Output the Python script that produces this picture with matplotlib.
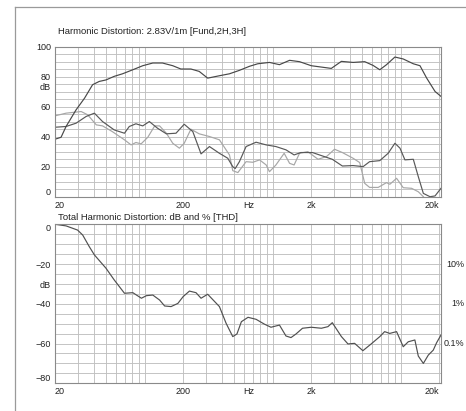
import numpy as np
import matplotlib
matplotlib.use('Agg')
import matplotlib.pyplot as plt
from matplotlib.ticker import LogLocator, MultipleLocator, FixedLocator, NullFormatter
from matplotlib.lines import Line2D
from matplotlib.transforms import blended_transform_factory

plt.rcParams['font.family'] = ['Liberation Sans', 'DejaVu Sans']

# ═══════════ data ═══════════
fund_f = [20, 22.3, 24.4, 29.2, 34, 39.3, 44.3, 50, 58, 67.3, 81, 96.8, 116, 138, 166, 192,
          230, 267, 311, 384, 460, 550, 659, 765, 944, 1130, 1355, 1620, 2000, 2395, 2868,
          3438, 4240, 5230, 6077, 6856, 7740, 8997, 10450, 12520, 14120, 15930, 18510, 20600]
fund_db = [38.4, 39.7, 46.9, 58, 65.8, 74.8, 77, 78, 80.4, 82.1, 84.8, 87.5, 89.3, 89.3, 87.5,
           85.3, 85.3, 83.7, 79.2, 80.8, 82.1, 84.4, 87.1, 88.8, 89.7, 88.2, 91.1, 90.2, 87.5,
           86.6, 85.7, 90.4, 89.7, 90.2, 87.7, 84.8, 88.2, 93.3, 92, 88.8, 87.5, 79.2, 70.3, 67]

h2_f = [20, 24.4, 29.2, 35, 40.6, 47, 58, 69.7, 76, 85.6, 96.8, 109, 126, 148, 176, 204, 238,
        276, 321, 384, 446, 488, 510, 550, 620, 742, 890, 1060, 1270, 1470, 1660, 2045, 2450,
        2920, 3500, 4240, 5080, 5710, 6856, 7970, 8997, 9860, 10770, 12520, 13700, 15000,
        16900, 18500, 20600]
h2_db = [46.4, 46.9, 49.1, 53.6, 55.8, 50.2, 44.6, 42.4, 46.9, 48.7, 47.3, 50.2, 45.8, 42,
         42.4, 48.4, 43.5, 28.6, 33.5, 29, 25.7, 20.1, 18.8, 23.4, 33.5, 36.4, 34.6, 33.5,
         31.3, 27.9, 29.5, 29.5, 27.2, 25, 20.5, 20.8, 20.1, 23.4, 24.1, 29, 35.7, 32.4, 24.6,
         25, 13.4, 2.2, 0, 0.5, 5.6]

h3_f = [20, 24.4, 32, 36, 42, 47, 56, 69.7, 78.5, 85.6, 94, 106, 120, 131, 148, 166, 187, 204,
        230, 267, 321, 384, 460, 488, 535, 620, 700, 790, 890, 944, 1060, 1230, 1355, 1470,
        1620, 1880, 2260, 2630, 3040, 3500, 4240, 4780, 5230, 5710, 6660, 7740, 8220, 9270,
        10450, 12150, 13700, 15000]
h3_db = [54, 55.8, 56.9, 54.7, 48, 47.3, 43.5, 38, 34.6, 36.2, 35.3, 39.7, 47.3, 47.3, 42.4,
         35.7, 32.4, 35.7, 45.1, 42, 40.2, 38, 27.9, 17.4, 16.1, 23.4, 23, 24.6, 21.2, 16.7,
         21.2, 29, 22.3, 21.2, 29, 30.1, 25, 26.8, 31.7, 29.5, 25.7, 22.8, 8.9, 6.2, 6.2, 9.4,
         8.3, 12.3, 6, 5.6, 3.3, 0]

thd_f = [20, 24.4, 30, 32.9, 37, 40.6, 50, 58, 69.7, 81, 94.5, 103.5, 116, 131, 143.5, 161,
         182, 200, 224, 252, 276, 311, 384, 433, 488, 526, 570, 642, 742, 860, 970, 1130,
         1270, 1390, 1520, 1710, 2000, 2400, 2700, 2920, 3440, 3870, 4360, 5060, 5870, 6860,
         7480, 8200, 9270, 10450, 11440, 12880, 13700, 15000, 16400, 17930, 19030, 20600]
thd_db = [0, -0.8, -2.9, -5.4, -11.2, -15.4, -22.1, -28, -34.7, -34.4, -37.2, -35.9, -35.6,
          -38.1, -41.1, -41.4, -39.8, -36.4, -33.6, -34.4, -37.2, -35.2, -41.4, -49.8, -56.5,
          -55.2, -49, -46.8, -47.8, -50.2, -51.8, -50.7, -56.2, -57, -55.2, -52.3, -51.8,
          -52.3, -51.5, -49.5, -56.5, -60.2, -59.9, -63.6, -60.2, -56.5, -54, -54.9, -54,
          -61.6, -59.1, -58.2, -66.3, -70, -65.8, -63.3, -59.6, -55.7]

x_ticks = [20, 200, 650, 2000, 20000]
x_labels = ['20', '200', 'Hz', '2k', '20k']
top_yticks = [0, 20, 40, 60, 80, 100]
bot_yticks = [0, -20, -40, -60, -80]
pct_db = [-20, -40, -60]
pct_labels = ['10%', '1%', '0.1%']

GRID = '#c0c0c0'
FRAME = '#8a8a8a'
TXT = '#222222'
FS = 6.5


def style_axes(ax, ylim, yticks, minor_step):
    ax.set_xscale('log')
    ax.set_xlim(20, 20600)
    ax.set_ylim(*ylim)
    ax.xaxis.remove_overlapping_locs = False
    ax.xaxis.set_major_locator(FixedLocator(x_ticks))
    ax.set_xticklabels(x_labels)
    ax.xaxis.set_minor_locator(LogLocator(base=10, subs=np.arange(1, 10), numticks=20))
    ax.xaxis.set_minor_formatter(NullFormatter())
    ax.set_yticks(yticks)
    ax.yaxis.set_minor_locator(MultipleLocator(minor_step))
    ax.grid(False, which='major', axis='x')
    ax.grid(True, which='minor', axis='x', color=GRID, lw=0.65)
    ax.grid(True, which='both', axis='y', color=GRID, lw=0.65)
    ax.tick_params(which='both', length=0, labelsize=FS, colors=TXT, pad=3)
    for s in ax.spines.values():
        s.set_color(FRAME)
        s.set_linewidth(0.8)
    ax.set_axisbelow(True)
    xl = ax.get_xticklabels()
    xl[0].set_ha('left')
    xl[-1].set_ha('right')


fig = plt.figure(figsize=(4.66, 4.11), dpi=100)
fig.set_facecolor('white')

# outer frame
fig.add_artist(Line2D([15 / 466, 15 / 466], [0, 1 - 7.5 / 411], color='#9a9a9a', lw=0.9))
fig.add_artist(Line2D([15 / 466, 1], [1 - 7.5 / 411, 1 - 7.5 / 411], color='#9a9a9a', lw=0.9))

# ═══════════ top: harmonic distortion ═══════════
ax1 = fig.add_axes([55 / 466, 1 - 196.7 / 411, 386 / 466, 149.7 / 411])
style_axes(ax1, (0, 100), top_yticks, 5)
ax1.plot(h3_f, h3_db, color='#a6a6a6', lw=0.85)
ax1.plot(h2_f, h2_db, color='#585858', lw=0.85)
ax1.plot(fund_f, fund_db, color='#484848', lw=0.85)
yl = ax1.get_yticklabels()
yl[0].set_va('bottom')
yl[-1].set_va('center')
ax1.text(-0.012, 73, 'dB', transform=blended_transform_factory(ax1.transAxes, ax1.transData),
         ha='right', va='center', fontsize=FS, color=TXT)
fig.text(58 / 466, 1 - 32 / 411, 'Harmonic Distortion: 2.83V/1m [Fund,2H,3H]',
         fontsize=FS + 0.3, color=TXT, va='center')

# ═══════════ bottom: THD ═══════════
ax2 = fig.add_axes([55 / 466, 1 - 383.3 / 411, 386 / 466, 159 / 411])
style_axes(ax2, (-80, 0), bot_yticks, 5)
ax2.plot(thd_f, thd_db, color='#505050', lw=0.85)
yl = ax2.get_yticklabels()
yl[0].set_va('top')
yl[-1].set_va('bottom')
ax2.text(-0.012, -31, 'dB', transform=blended_transform_factory(ax2.transAxes, ax2.transData),
         ha='right', va='center', fontsize=FS, color=TXT)
tr = blended_transform_factory(fig.transFigure, ax2.transData)
for d, lab in zip(pct_db, pct_labels):
    ax2.text(464 / 466, d, lab, transform=tr, ha='right', va='center', fontsize=FS, color=TXT)
fig.text(58 / 466, 1 - 217 / 411, 'Total Harmonic Distortion: dB and % [THD]',
         fontsize=FS + 0.3, color=TXT, va='center')

plt.savefig('out.png', dpi=100, facecolor=fig.get_facecolor())
plt.close()
